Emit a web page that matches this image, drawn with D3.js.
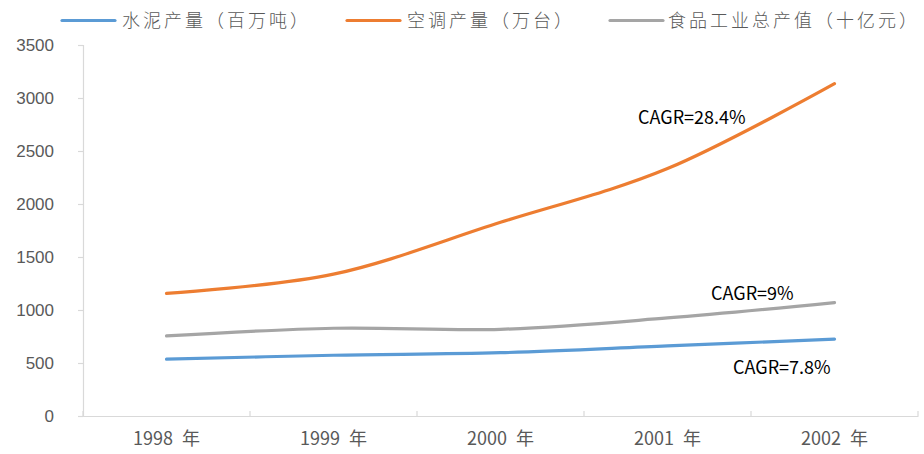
<!DOCTYPE html>
<html><head><meta charset="utf-8">
<script src="https://cdn.jsdelivr.net/npm/d3@7"></script>
<style>
html,body{margin:0;padding:0;background:#fff;}
svg{display:block;}
</style></head>
<body>
<svg id="chart" width="924" height="454"></svg>
<script>
const categories = ["1998 年","1999 年","2000 年","2001 年","2002 年"];
const cement = [536, 573, 597, 661, 725];
const aircon = [1157, 1338, 1827, 2334, 3135];
const food = [755, 828, 818, 925, 1070];
const seriesNames = ["水泥产量（百万吨）","空调产量（万台）","食品工业总产值（十亿元）"];
const seriesColors = ["#5b9bd5","#ed7d31","#a5a5a5"];
const yTicks = [0,500,1000,1500,2000,2500,3000,3500];
const cagrLabels = ["CAGR=7.8%","CAGR=28.4%","CAGR=9%"];

(function(){
const svg = d3.select("#chart");
const plotLeft = 83, plotRight = 918, plotTop = 45, plotBottom = 416;

const x = d3.scaleBand().domain(categories).range([plotLeft, plotRight]);
const y = d3.scaleLinear().domain([0, 3500]).range([plotBottom, plotTop]);

// Y axis
const yAxis = svg.append("g").attr("transform", `translate(${plotLeft},0)`)
  .call(d3.axisLeft(y).tickValues(yTicks).tickSize(5).tickPadding(24).tickFormat(d3.format("d")));
yAxis.select(".domain").attr("stroke", "#d9d9d9").attr("stroke-width", 1.2);
yAxis.selectAll(".tick line").attr("stroke", "#d9d9d9").attr("stroke-width", 1.2);
yAxis.selectAll("text").attr("fill", "#595959")
  .style("font-family", "'Liberation Sans', Arial, sans-serif").style("font-size", "17px");

// X axis
const xAxis = svg.append("g").attr("transform", `translate(0,${plotBottom})`)
  .call(d3.axisBottom(x).tickSize(0).tickPadding(16));
xAxis.select(".domain").attr("stroke", "#d9d9d9").attr("stroke-width", 1.2);
xAxis.selectAll("text").attr("fill", "#595959")
  .style("font-family", "'Noto Sans CJK SC', sans-serif").style("font-size", "18px")
  .style("word-spacing", "5px");
const edges = categories.map(c => x(c)).concat([plotRight]);
svg.append("g").selectAll("line").data(edges).join("line")
  .attr("x1", d => d).attr("x2", d => d)
  .attr("y1", plotBottom - 5).attr("y2", plotBottom)
  .attr("stroke", "#d9d9d9").attr("stroke-width", 1.2);

// Lines
const allSeries = [cement, aircon, food];
const line = d3.line()
  .x((d, i) => x(categories[i]) + x.bandwidth() / 2)
  .y(d => y(d))
  .curve(d3.curveCatmullRom.alpha(0));
svg.append("g").selectAll("path").data(allSeries).join("path")
  .attr("d", d => line(d))
  .attr("fill", "none")
  .attr("stroke", (d, i) => seriesColors[i])
  .attr("stroke-width", 3.2)
  .attr("stroke-linecap", "round");

// Legend
const legendPos = [{lx: 62, tx: 122}, {lx: 347, tx: 407}, {lx: 610, tx: 668}];
const lg = svg.append("g");
seriesNames.forEach((name, i) => {
  lg.append("line").attr("x1", legendPos[i].lx).attr("x2", legendPos[i].lx + 53)
    .attr("y1", 20.5).attr("y2", 20.5)
    .attr("stroke", seriesColors[i]).attr("stroke-width", 3.2).attr("stroke-linecap", "round");
  lg.append("text").attr("x", legendPos[i].tx).attr("y", 27)
    .attr("fill", "#595959")
    .style("font-family", "'Noto Sans CJK SC', sans-serif").style("font-size", "18px")
    .style("font-weight", "300").style("letter-spacing", "3px")
    .text(name);
});

// CAGR annotations
const cagrPos = [{x: 733, y: 374}, {x: 638, y: 124}, {x: 711, y: 300}];
cagrLabels.forEach((t, i) => {
  svg.append("text").attr("x", cagrPos[i].x).attr("y", cagrPos[i].y)
    .attr("fill", "#000")
    .style("font-family", "'Noto Sans CJK SC', sans-serif").style("font-size", "18px")
    .text(t);
});
})();
</script>
</body></html>
